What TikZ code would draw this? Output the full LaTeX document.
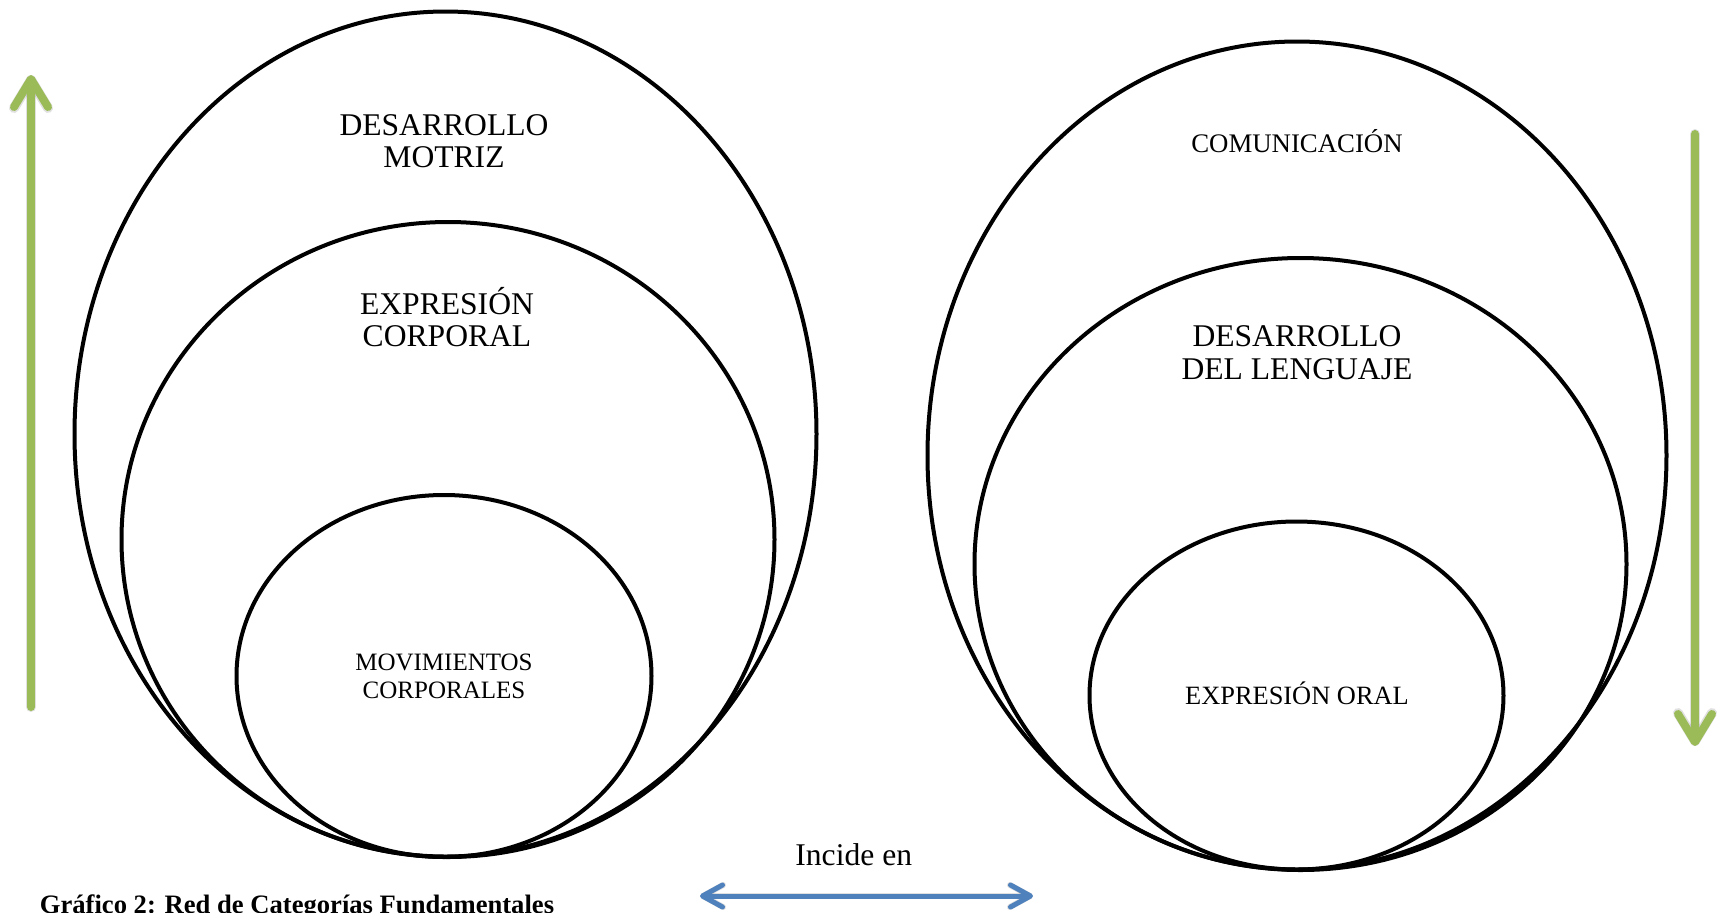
\documentclass[tikz,border=0pt]{standalone}
\usepackage{fontspec}
\setmainfont{Liberation Serif}
\usetikzlibrary{shapes.geometric,arrows.meta}
\definecolor{agreen}{HTML}{9BBB59}
\definecolor{ablue}{HTML}{4F81BD}
\tikzset{
  ring/.style={ellipse, draw=black, line width=2pt, inner sep=0pt, outer sep=0pt},
  bigtxt/.style={anchor=base, inner sep=0pt, font=\fontsize{15.8pt}{16.5pt}\selectfont},
  midtxt/.style={anchor=base, inner sep=0pt, font=\fontsize{13.4pt}{14pt}\selectfont},
  smalltxt/.style={anchor=base, inner sep=0pt, font=\fontsize{12.5pt}{14pt}\selectfont},
  greenarrow/.style={draw=agreen, line width=4pt, line cap=round,
     -{Straight Barb[length=14pt,width=17pt,round]}},
  bluearrow/.style={draw=ablue, line width=2.5pt,
     {Straight Barb[length=10pt,width=11pt,round]}-{Straight Barb[length=10pt,width=11pt,round]}},
  shadowline/.style={draw=black, opacity=0.12}
}
\begin{document}
\begin{tikzpicture}[x=0.5pt,y=-0.5pt]
\useasboundingbox (0,0) rectangle (1721,912);
% left group
\node[ring, minimum width=371pt, minimum height=422.5pt] (lbig) at (445.5,434) {};
\node[ring, minimum width=326.5pt, minimum height=317.5pt] (lmid) at (448,539.5) {};
\node[ring, minimum width=207.5pt, minimum height=181pt] (lin) at (444,676) {};
\node[bigtxt] (t1a) at (444,135) {DESARROLLO};
\node[bigtxt] (t1b) at (444,167.5) {MOTRIZ};
\node[bigtxt] (t2a) at (447,314) {EXPRESIÓN};
\node[bigtxt] (t2b) at (447,346.5) {CORPORAL};
\node[smalltxt] (t3a) at (444,670) {MOVIMIENTOS};
\node[smalltxt] (t3b) at (444,698) {CORPORALES};
% right group
\node[ring, minimum width=369.5pt, minimum height=414pt] (rbig) at (1297,455.5) {};
\node[ring, minimum width=326pt, minimum height=306pt] (rmid) at (1300.5,564) {};
\node[ring, minimum width=207pt, minimum height=174pt] (rin) at (1296.5,695.5) {};
\node[midtxt] (t4) at (1297,152.5) {COMUNICACIÓN};
\node[bigtxt] (t5a) at (1297,346) {DESARROLLO};
\node[bigtxt] (t5b) at (1297,379) {DEL LENGUAJE};
\node[font=\fontsize{13.2pt}{14pt}\selectfont, anchor=base, inner sep=0pt] (t6) at (1297,704) {EXPRESIÓN ORAL};
% arrows
\coordinate (upS) at (31,707);
\coordinate (upE) at (31,75);
\coordinate (dnS) at (1695,134);
\coordinate (dnE) at (1695,746);
\coordinate (blL) at (700,896);
\coordinate (blR) at (1033,896);
\begin{scope}[shift={(3,3)}]
\draw[shadowline, line width=5pt, line cap=round, -{Straight Barb[length=14pt,width=17pt,round]}] (upS) -- (upE);
\draw[shadowline, line width=5pt, line cap=round, -{Straight Barb[length=14pt,width=17pt,round]}] (dnS) -- (dnE);
\draw[shadowline, line width=3pt, {Straight Barb[length=10pt,width=11pt,round]}-{Straight Barb[length=10pt,width=11pt,round]}] (blL) -- (blR);
\end{scope}
\draw[greenarrow] (upS) -- (upE);
\draw[greenarrow] (dnS) -- (dnE);
\draw[bluearrow] (blL) -- (blR);
\node[font=\fontsize{15.8pt}{16.5pt}\selectfont, anchor=base west, inner sep=0pt] (inc) at (795,865) {Incide en};
\node[font=\bfseries\fontsize{13.3pt}{14pt}\selectfont, anchor=base west, inner sep=0pt] (cap) at (39.5,913) {Gráfico 2: Red de Categorías Fundamentales};
\end{tikzpicture}
\end{document}
